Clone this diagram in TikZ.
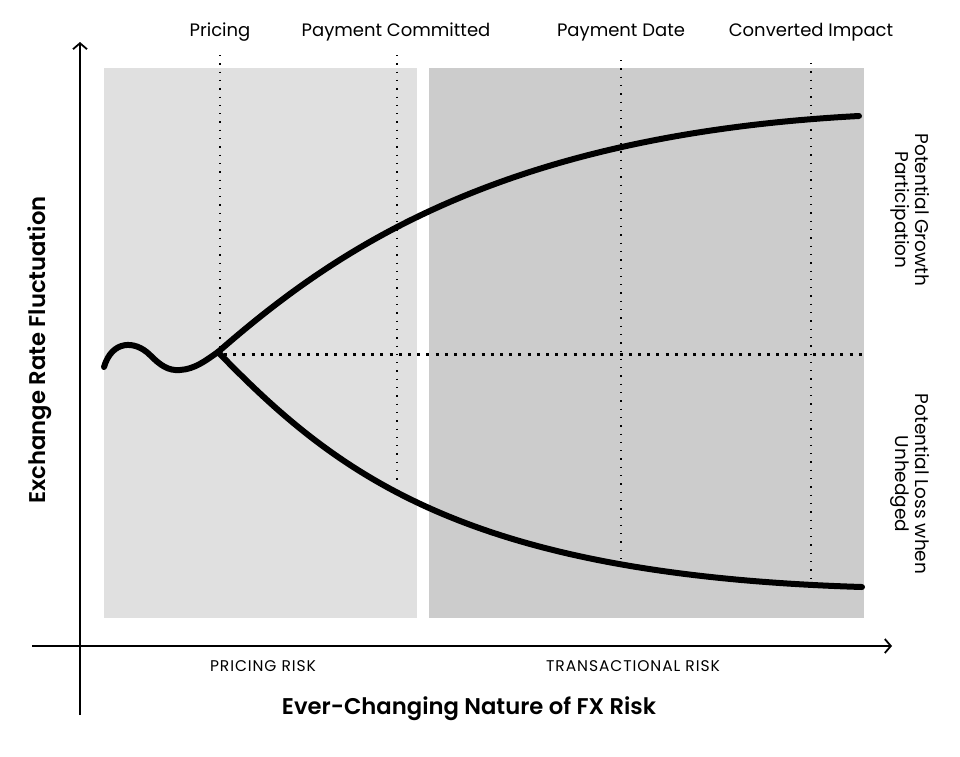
\documentclass[tikz,border=0pt]{standalone}
\usepackage{fontspec}
\setmainfont{Poppins}
\newfontfamily\semib{Poppins SemiBold}
\usetikzlibrary{arrows.meta}
\definecolor{lightbox}{HTML}{E0E0E0}
\definecolor{darkbox}{HTML}{CCCCCC}
\begin{document}
\begin{tikzpicture}[x=1pt,y=-1pt,
  axis/.style={line width=1.8pt,-{Straight Barb[length=6pt,width=14pt,line width=1.8pt]}},
  vdots/.style={line width=1.3pt,dash pattern=on 1.3pt off 7pt},
  hdots/.style={line width=3pt,dash pattern=on 3pt off 6.2pt},
  curve/.style={line width=6pt,line cap=round,line join=round},
  toplabel/.style={font=\fontsize{18}{20}\selectfont,anchor=center},
  risklabel/.style={font=\fontsize{15.5}{17}\selectfont\addfontfeatures{LetterSpace=6},anchor=center},
  sidelabel/.style={font=\fontsize{18.5}{19.5}\selectfont,align=center,rotate=-90,anchor=center},
  axislabel/.style={font=\fontsize{22.7}{25}\selectfont\semib,anchor=center}]
\path[use as bounding box] (0,0) rectangle (960,756);
% background panels
\fill[lightbox] (104,68) rectangle (417,618);
\fill[darkbox] (429,68) rectangle (864,618);
% dotted guides
\coordinate (p1t) at (220,55);  \coordinate (p1b) at (220,350);
\coordinate (p2t) at (397,55);  \coordinate (p2b) at (397,486);
\coordinate (p3t) at (621,60);  \coordinate (p3b) at (621,562);
\coordinate (p4t) at (811,63);  \coordinate (p4b) at (811,582);
\draw[vdots] (p1t) -- (p1b);
\draw[vdots] (p2t) -- (p2b);
\draw[vdots] (p3t) -- (p3b);
\draw[vdots] (p4t) -- (p4b);
\coordinate (hs) at (224,354); \coordinate (he) at (864,354);
\draw[hdots] (hs) -- (he);
% axes
\coordinate (yb) at (80,715); \coordinate (yt) at (80,42);
\coordinate (xl) at (32,646); \coordinate (xr) at (892,646);
\draw[axis] (yb) -- (yt);
\draw[axis] (xl) -- (xr);
% curves
\coordinate (s) at (104,367);
\coordinate (br) at (218,352);
\coordinate (ue) at (859,116);
\coordinate (le) at (862,587);
\draw[curve] (s) .. controls (112,340) and (135,340) .. (150,355)
  .. controls (160,365) and (168,371) .. (180,370)
  .. controls (195,369) and (205,361) .. (br);
\draw[curve] (br) .. controls (335,250) and (500,135) .. (ue);
\draw[curve] (br) .. controls (340,478) and (470,575) .. (le);
% labels
\node[toplabel] (lp) at (220,32) {Pricing};
\node[toplabel] (lpc) at (396,32) {Payment Committed};
\node[toplabel] (lpd) at (621,33) {Payment Date};
\node[toplabel] (lci) at (811,32) {Converted Impact};
\node[sidelabel] (lg) at (910,210) {Potential Growth\\Participation};
\node[sidelabel] (ll) at (910,484) {Potential Loss when\\Unhedged};
\node[risklabel] (lpr) at (263,666) {PRICING RISK};
\node[risklabel] (ltr) at (633,666) {TRANSACTIONAL RISK};
\node[axislabel] (lx) at (469,709) {Ever-Changing Nature of FX Risk};
\node[axislabel,rotate=90] (ly) at (40,350) {Exchange Rate Fluctuation};
\end{tikzpicture}
\end{document}
